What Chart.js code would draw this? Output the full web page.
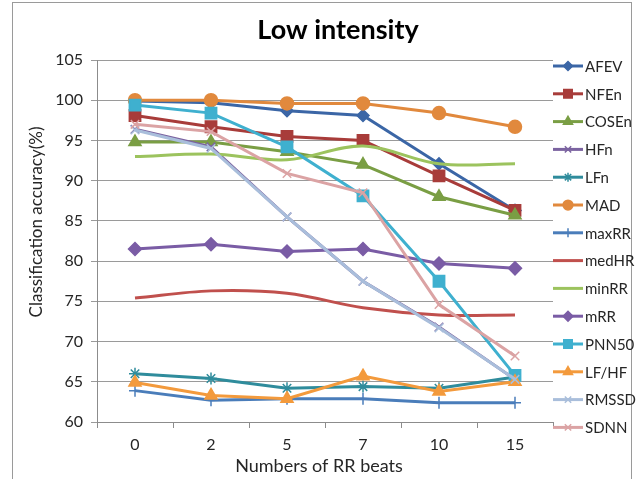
<!DOCTYPE html>
<html><head><meta charset="utf-8">
<script src="https://cdn.jsdelivr.net/npm/chart.js@4.4.1/dist/chart.umd.min.js"></script>
<style>html,body{margin:0;padding:0;background:#fff}#wrap{width:636px;height:479px}</style>
</head><body><div id="wrap"><canvas id="c" width="636" height="479"></canvas></div>
<script>
const chartTitle = 'Low intensity';
const xTitle = 'Numbers of RR beats';
const yTitle = 'Classification accuracy(%)';
const categories = ['0', '2', '5', '7', '10', '15'];
const yMin = 60, yMax = 105, yStep = 5;

const seriesNames = ['AFEV','NFEn','COSEn','HFn','LFn','MAD','maxRR','medHR','minRR','mRR','PNN50','LF/HF','RMSSD','SDNN'];
const AFEV  = [99.9, 99.7, 98.7, 98.1, 92.1, 86.3];
const NFEn  = [98.1, 96.7, 95.5, 95.0, 90.6, 86.3];
const COSEn = [94.8, 94.8, 93.6, 92.0, 88.0, 85.7];
const HFn   = [96.4, 94.2, 85.5, 77.5, 71.8, 65.3];
const LFn   = [66.0, 65.4, 64.2, 64.4, 64.2, 65.6];
const MAD   = [100.0, 100.0, 99.6, 99.6, 98.4, 96.7];
const maxRR = [63.9, 62.7, 62.9, 62.9, 62.4, 62.4];
const medHR = [75.4, 76.3, 76.0, 74.2, 73.3, 73.3];
const minRR = [93.0, 93.3, 92.6, 94.3, 92.1, 92.1];
const mRR   = [81.5, 82.1, 81.2, 81.5, 79.7, 79.1];
const PNN50 = [99.4, 98.4, 94.2, 88.1, 77.5, 65.8];
const LFHF  = [64.9, 63.3, 62.9, 65.7, 63.8, 65.0];
const RMSSD = [96.3, 94.0, 85.5, 77.5, 71.7, 65.3];
const SDNN  = [97.0, 96.1, 90.9, 88.5, 74.6, 68.2];

const seriesValues = [AFEV,NFEn,COSEn,HFn,LFn,MAD,maxRR,medHR,minRR,mRR,PNN50,LFHF,RMSSD,SDNN];
const seriesColors = ['#3b66a6','#a83c3a','#7a9e44','#7b63a0','#2f8c9c','#e1893d','#4a7dba','#c0504d','#9cc35e','#7a5ca5','#3fb0cf','#f39a3c','#a9bedb','#dba3a4'];
const seriesMarkers = ['rectRot','rect','triangle','crossRot','star','circle','cross',false,false,'rectRot','rect','triangle','crossRot','crossRot'];
const seriesRadius = [6,8,7,6,6,6.5,6,0,0,6.5,8,7,6,6];
const seriesSmooth = [0,0,0,0,0,0,0,0.35,0.35,0,0,0,0,0];

const FONT = 'Lato, "Open Sans", sans-serif';
const TXT = '#262626';

const datasets = seriesNames.map((n, i) => ({
  label: n,
  data: seriesValues[i],
  borderColor: seriesColors[i],
  backgroundColor: seriesColors[i],
  pointBackgroundColor: seriesColors[i],
  pointBorderColor: seriesColors[i],
  borderWidth: 3,
  pointStyle: seriesMarkers[i] || 'circle',
  pointRadius: seriesMarkers[i] ? seriesRadius[i] : 0,
  pointBorderWidth: 1.5,
  tension: seriesSmooth[i],
  order: -i,
  fill: false
}));

const decor = {
  id: 'decor',
  beforeDraw(chart) {
    const ctx = chart.ctx;
    ctx.save();
    ctx.fillStyle = '#fff';
    ctx.fillRect(0, 0, chart.width, chart.height);
    ctx.strokeStyle = '#9a9a9a';
    ctx.lineWidth = 1;
    ctx.strokeRect(12.5, 2.5, 619, 490);
    ctx.restore();
  },
  afterDraw(chart) {
    const ctx = chart.ctx;
    ctx.save();
    ctx.fillStyle = '#000';
    ctx.textAlign = 'center';
    ctx.textBaseline = 'alphabetic';
    ctx.font = 'bold 27px ' + FONT;
    ctx.fillText(chartTitle, 338, 39);
    ctx.fillStyle = TXT;
    ctx.textBaseline = 'middle';
    ctx.font = '18px ' + FONT;
    ctx.fillText(xTitle, 319, 466);
    ctx.save();
    ctx.translate(37, 222);
    ctx.rotate(-Math.PI / 2);
    ctx.font = '17px ' + FONT;
    ctx.fillText(yTitle, 0, 0);
    ctx.restore();
    // legend
    const x0 = 553, x1 = 583, y0 = 66, dy = 27.8;
    chart.data.datasets.forEach((ds, i) => {
      const y = y0 + i * dy;
      ctx.strokeStyle = ds.borderColor;
      ctx.lineWidth = 3;
      ctx.beginPath();
      ctx.moveTo(x0, y);
      ctx.lineTo(x1, y);
      ctx.stroke();
      if (seriesMarkers[i]) {
        ctx.fillStyle = ds.borderColor;
        ctx.strokeStyle = ds.borderColor;
        ctx.lineWidth = 1.5;
        Chart.helpers.drawPoint(ctx, {pointStyle: seriesMarkers[i], radius: seriesRadius[i] * 0.75, borderWidth: 1.5, rotation: 0}, (x0 + x1) / 2, y);
      }
      ctx.fillStyle = TXT;
      ctx.textAlign = 'left';
      ctx.textBaseline = 'middle';
      ctx.font = '15px ' + FONT;
      ctx.fillText(ds.label, x1 + 2, y + 1);
    });
    ctx.restore();
  }
};

new Chart(document.getElementById('c'), {
  type: 'line',
  data: { labels: categories, datasets },
  plugins: [decor],
  options: {
    responsive: false,
    animation: false,
    devicePixelRatio: 1,
    layout: { padding: { left: 12, top: 60, right: 83, bottom: 0 } },
    plugins: { legend: { display: false }, title: { display: false }, tooltip: { enabled: false } },
    scales: {
      x: {
        offset: true,
        afterFit(s) { s.height = 57; },
        grid: { offset: true, drawOnChartArea: false, drawTicks: true, tickLength: 6, color: '#8c8c8c' },
        border: { color: '#8c8c8c', width: 1 },
        ticks: { padding: 7, color: TXT, font: { family: FONT, size: 16 } }
      },
      y: {
        min: yMin, max: yMax,
        afterFit(s) { s.width = 85; },
        grid: { color: '#9a9a9a', drawTicks: true, tickLength: 6 },
        border: { color: '#8c8c8c', width: 1 },
        ticks: { stepSize: yStep, padding: 8, color: TXT, font: { family: FONT, size: 16 } }
      }
    }
  }
});
</script>
</body></html>
